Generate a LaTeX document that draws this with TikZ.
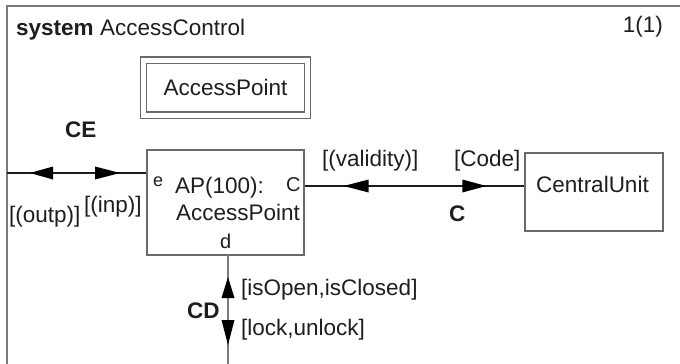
\documentclass[tikz,border=0pt]{standalone}
\usepackage{fontspec}
\setmainfont{Liberation Sans}
\usetikzlibrary{calc}
\definecolor{framegray}{HTML}{7A7A7A}
\definecolor{boxgray}{HTML}{6A6A6A}
\definecolor{ink}{HTML}{1E1E1E}
\begin{document}
\begin{tikzpicture}[x=1pt,y=-1pt,
  every node/.style={text=ink},
  txt/.style={inner sep=0pt, anchor=base west, font=\fontsize{22.5}{25}\selectfont},
  porttxt/.style={inner sep=0pt, anchor=base west, font=\fontsize{20}{22}\selectfont},
  blk/.style={draw=boxgray, line width=1.3pt, inner sep=0pt, fill=white},
  conn/.style={draw=ink, line width=1.1pt},
  connv/.style={draw=framegray, line width=1.6pt},
  ahead/.style={fill=black}]
\useasboundingbox (0,0) rectangle (680,364);
\clip (0,0) rectangle (680,364);
\fill[white] (0,0) rectangle (680,364);
% frame
\draw[framegray, line width=1.8pt] (7,380) -- (7,6) -- (700,6);
\node[txt] (title) at (16,35) {\textbf{system} AccessControl};
\node[txt, anchor=base east] (page) at (663,32) {1(1)};
% type box (double border)
\node[blk, minimum width=164pt, minimum height=55pt, double, double distance=5pt, line width=1.1pt] (aptype) at (225.5,87.5) {};
\node[txt, anchor=base] (aptypetxt) at (225.5,95) {AccessPoint};
% process AP
\node[blk, minimum width=157pt, minimum height=105pt] (ap) at (225.5,202.5) {};
\node[txt] (apname) at (175,193) {AP(100):};
\node[txt] (aptype2) at (176,220) {AccessPoint};
\node[porttxt, font=\fontsize{18}{20}\selectfont] (pe) at (153,186) {e};
\node[porttxt] (pc) at (286,191) {C};
\node[porttxt] (pd) at (220,248) {d};
% central unit
\node[blk, minimum width=138pt, minimum height=78pt] (cu) at (594,192) {};
\node[txt, anchor=base] (cutxt) at (592.5,192) {CentralUnit};
% connector CE
\coordinate (ceL) at (7,173);
\draw[conn] (ceL) -- (ap.west |- ceL);
\fill[ahead] ($(ceL)+(23,0)$) -- ++(23,-6.5) -- ++(0,13) -- cycle;
\fill[ahead] ($(ceL)+(113,0)$) -- ++(-25,-6.5) -- ++(0,13) -- cycle;
\node[txt, font=\fontsize{22.5}{25}\selectfont\bfseries] (celbl) at (65,137) {CE};
\node[txt] (outp) at (9,222) {[(outp)]};
\node[txt] (inp) at (84,212) {[(inp)]};
% connector C
\coordinate (cS) at (ap.east |- 0,186);
\draw[conn] (cS) -- (cu.west |- cS);
\fill[ahead] ($(cS)+(39,0)$) -- ++(25,-6.5) -- ++(0,13) -- cycle;
\fill[ahead] ($(cu.west |- cS)+(-38,0)$) -- ++(-24,-6.5) -- ++(0,13) -- cycle;
\node[txt] (validity) at (322,166) {[(validity)]};
\node[txt] (code) at (454,166) {[Code]};
\node[txt, font=\fontsize{22.5}{25}\selectfont\bfseries] (clbl) at (449,221) {C};
% connector CD
\coordinate (cdT) at (228,255);
\coordinate (cdB) at (228,380);
\draw[connv] (cdT) -- (cdB);
\fill[ahead] ($(cdT)+(0,22)$) -- ++(-6.5,21) -- ++(13,0) -- cycle;
\fill[ahead] ($(cdT)+(0,90)$) -- ++(-6.5,-25) -- ++(13,0) -- cycle;
\node[txt, font=\fontsize{22.5}{25}\selectfont\bfseries] (cdlbl) at (187,318) {CD};
\node[txt] (isopen) at (241,295) {[isOpen,isClosed]};
\node[txt] (lock) at (241,335) {[lock,unlock]};
\end{tikzpicture}
\end{document}
